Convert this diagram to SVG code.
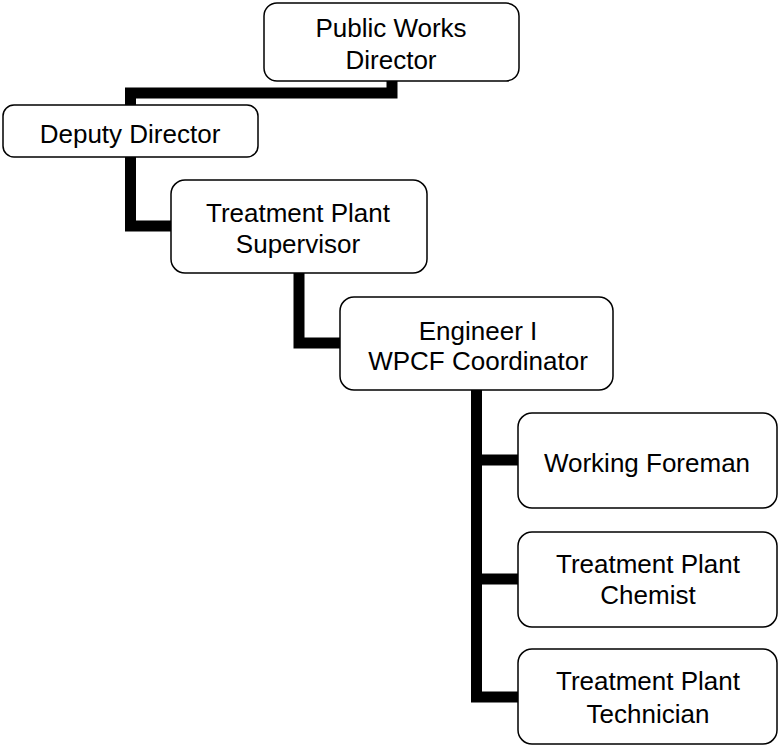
<svg xmlns="http://www.w3.org/2000/svg" width="780" height="746" viewBox="0 0 780 746">
<style>
.box{fill:#fff;stroke:#000;stroke-width:1.5}
.t{font-family:"Liberation Sans",Arial,sans-serif;font-size:26px;fill:#000;text-anchor:middle}
.c{fill:none;stroke:#000;stroke-width:11;stroke-linejoin:miter;stroke-linecap:butt}
</style>
<rect width="780" height="746" fill="#fff"/>
<g id="connectors">
<path class="c" d="M392,81 V93 H130.5 V105"/>
<path class="c" d="M130.5,157 V226 H171"/>
<path class="c" d="M299,273 V343 H340"/>
<path class="c" d="M476.5,390 V697 H518"/>
<path class="c" d="M476.5,460 H518"/>
<path class="c" d="M476.5,579 H518"/>
</g>
<g id="public-works-director">
<rect class="box" x="264" y="3" width="255" height="78" rx="13"/>
<text class="t" x="391" y="37">Public Works</text>
<text class="t" x="391" y="69">Director</text>
</g>
<g id="deputy-director">
<rect class="box" x="3" y="105" width="255" height="52" rx="11"/>
<text class="t" x="130" y="143">Deputy Director</text>
</g>
<g id="treatment-plant-supervisor">
<rect class="box" x="171" y="180" width="256" height="93" rx="14"/>
<text class="t" x="298" y="222">Treatment Plant</text>
<text class="t" x="298" y="253">Supervisor</text>
</g>
<g id="engineer-wpcf-coordinator">
<rect class="box" x="340" y="297" width="273" height="93" rx="14"/>
<text class="t" x="478" y="340">Engineer I</text>
<text class="t" x="478" y="370">WPCF Coordinator</text>
</g>
<g id="working-foreman">
<rect class="box" x="518" y="413" width="259" height="95" rx="14"/>
<text class="t" x="647" y="472">Working Foreman</text>
</g>
<g id="treatment-plant-chemist">
<rect class="box" x="518" y="532" width="259" height="95" rx="14"/>
<text class="t" x="648" y="573">Treatment Plant</text>
<text class="t" x="648" y="604">Chemist</text>
</g>
<g id="treatment-plant-technician">
<rect class="box" x="518" y="649" width="259" height="95" rx="14"/>
<text class="t" x="648" y="690">Treatment Plant</text>
<text class="t" x="648" y="723">Technician</text>
</g>
</svg>
